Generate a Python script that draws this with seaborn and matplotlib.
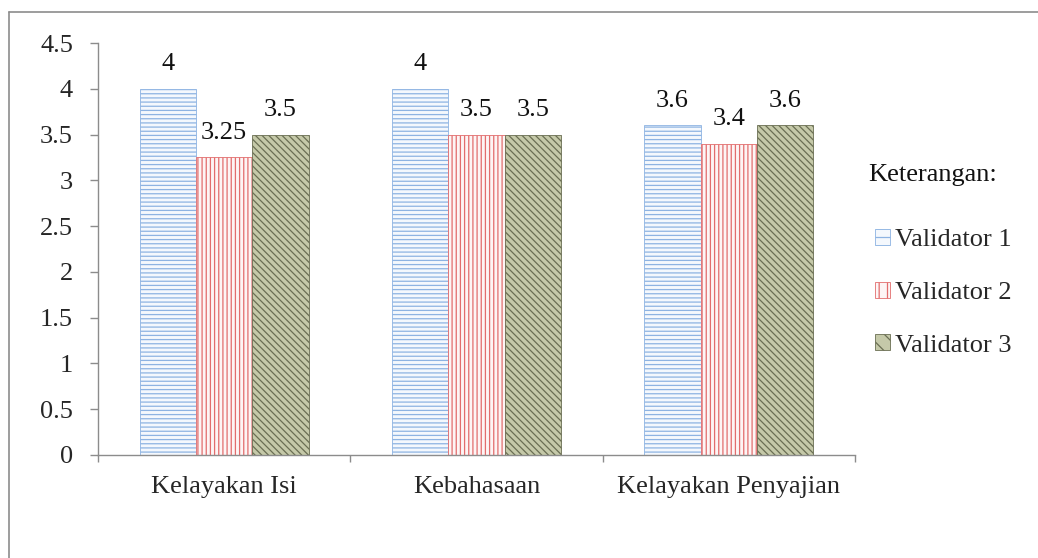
import matplotlib
matplotlib.use("Agg")
import matplotlib.pyplot as plt
import matplotlib.patches as mpatches
from matplotlib.lines import Line2D
import seaborn as sns
import pandas as pd

categories = ["Kelayakan Isi", "Kebahasaan", "Kelayakan Penyajian"]
validators = ["Validator 1", "Validator 2", "Validator 3"]
validator1 = [4, 4, 3.6]
validator2 = [3.25, 3.5, 3.4]
validator3 = [3.5, 3.5, 3.6]
yticks = [0, 0.5, 1, 1.5, 2, 2.5, 3, 3.5, 4, 4.5]
ytick_labels = ["0", "0.5", "1", "1.5", "2", "2.5", "3", "3.5", "4", "4.5"]

rows = []
for name, vals in zip(validators, [validator1, validator2, validator3]):
    for cat, v in zip(categories, vals):
        rows.append({"Aspek": cat, "Validator": name, "Skor": v})
df = pd.DataFrame(rows)

sns.set_theme(style="white")
plt.rcParams["font.family"] = ["Liberation Serif", "DejaVu Serif"]
plt.rcParams["hatch.linewidth"] = 0.9

FS = 19
W, H = 1038, 558
fig = plt.figure(figsize=(W / 100, H / 100), dpi=100)
ax = fig.add_axes([0.0944, 0.1846, 0.8237 - 0.0944, 0.9229 - 0.1846])

styles = {
    "Validator 1": dict(face="#f4f8fd", hatch="----", line="#8db3e2"),
    "Validator 2": dict(face="#fdf5f5", hatch="||||", line="#e26d6d"),
    "Validator 3": dict(face="#c5c9a9", hatch="\\\\\\\\\\", line="#6a6e53"),
}

sns.barplot(data=df, x="Aspek", y="Skor", hue="Validator", order=categories,
            hue_order=validators, ax=ax, width=0.67, legend=False,
            palette=[styles[v]["face"] for v in validators], saturation=1)

for container, name in zip(ax.containers, validators):
    st = styles[name]
    for bar in container:
        bar.set_facecolor(st["face"])
        bar.set_hatch(st["hatch"])
        bar.set_edgecolor(st["line"])
        bar.set_linewidth(0.6)
    ax.bar_label(container, labels=[f"{b.get_height():g}" for b in container],
                 padding=10, fontsize=FS, color="#111111")

ax.set_ylim(0, 4.5)
ax.set_xlim(-0.5, 2.5)
ax.set_yticks(yticks)
ax.set_yticklabels(ytick_labels, fontsize=FS)
ax.set_xticks(range(len(categories)))
ax.set_xticklabels(categories, fontsize=FS)
ax.set_xlabel("")
ax.set_ylabel("")
ax.tick_params(axis="x", length=0, pad=15)
ax.set_xticks([-0.5, 0.5, 1.5, 2.5], minor=True)
ax.tick_params(axis="x", which="minor", length=5, width=1, color="#8c8c8c",
               direction="out", bottom=True)
ax.tick_params(axis="y", length=6, width=1, color="#8c8c8c", direction="out",
               left=True, pad=12)

for side in ["top", "right"]:
    ax.spines[side].set_visible(False)
for side in ["left", "bottom"]:
    ax.spines[side].set_color("#8c8c8c")
    ax.spines[side].set_linewidth(1)

# legend: heading plus swatch entries
fig.text(868 / W, 1 - 175 / H, "Keterangan:", fontsize=FS, ha="left",
         va="center", color="#111111")
handles = [mpatches.Patch(facecolor=styles[v]["face"], edgecolor=styles[v]["line"],
                          hatch=styles[v]["hatch"][:2], linewidth=0.6)
           for v in validators]
fig.legend(handles, validators, loc="upper left",
           bbox_to_anchor=(875 / W, 1 - 229 / H), frameon=False, fontsize=FS,
           handlelength=0.55, handleheight=0.55, handletextpad=0.2,
           labelspacing=1.15, borderaxespad=0, borderpad=0)

# chart frame (top and left edges)
frame_kw = dict(transform=fig.transFigure, color="#8c8c8c", linewidth=1.2)
fig.add_artist(Line2D([9 / W, 1.0], [1 - 12 / H, 1 - 12 / H], **frame_kw))
fig.add_artist(Line2D([9 / W, 9 / W], [0.0, 1 - 12 / H], **frame_kw))

fig.savefig("out.png", dpi=100)
